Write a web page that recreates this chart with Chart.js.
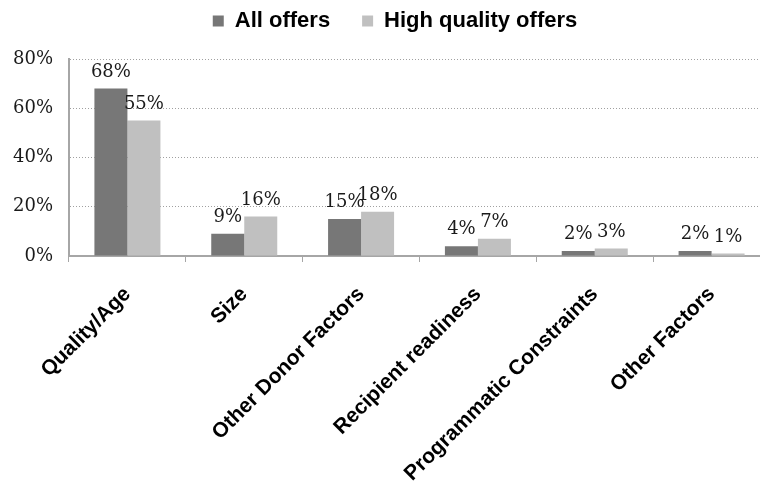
<!DOCTYPE html>
<html>
<head>
<meta charset="utf-8">
<title>Offer decline reasons</title>
<script src="https://cdn.jsdelivr.net/npm/chart.js@4.4.1/dist/chart.umd.min.js"></script>
<style>
    html, body {
        margin: 0;
        padding: 0;
        background: #ffffff;
        overflow: hidden;
    }
    #wrap {
        width: 770px;
        height: 483px;
    }
</style>
</head>
<body>
<div id="wrap">
    <canvas id="offersChart" width="770" height="483"></canvas>
</div>
<script>
// categories and values (percent)
const categories = [
    "Quality/Age",
    "Size",
    "Other Donor Factors",
    "Recipient readiness",
    "Programmatic Constraints",
    "Other Factors"
];
const allOffers = [68, 9, 15, 4, 2, 2];
const highQualityOffers = [55, 16, 18, 7, 3, 1];
const yTicks = [0, 20, 40, 60, 80];

const sansFont = "'Liberation Sans', Arial, sans-serif";
const serifFont = "'DejaVu Serif', Cambria, serif";

// percent labels above every bar
const barLabels = {
    id: "barLabels",
    afterDatasetsDraw(chart) {
        const ctx = chart.ctx;
        ctx.save();
        ctx.font = "18px " + serifFont;
        ctx.fillStyle = "#1a1a1a";
        ctx.textAlign = "center";
        ctx.textBaseline = "alphabetic";
        chart.data.datasets.forEach((ds, i) => {
            chart.getDatasetMeta(i).data.forEach((bar, j) => {
                ctx.fillText(ds.data[j] + "%", bar.x, bar.y - 12);
            });
        });
        ctx.restore();
    }
};

// taller legend so the plot starts lower, and nudge it a bit to the right
const legendFix = {
    id: "legendFix",
    beforeInit(chart) {
        if (!chart.legend || chart.legend._patched) return;
        const fit = chart.legend.fit;
        chart.legend.fit = function () {
            fit.call(this);
            this.height = 81;
        };
        chart.legend._patched = true;
    },
    afterLayout(chart) {
        if (chart.legend) chart.legend.left += 20;
    }
};

let offersChart = new Chart(document.getElementById("offersChart"), {
    type: "bar",
    data: {
        labels: categories,
        datasets: [{
            label: "All offers",
            data: allOffers,
            backgroundColor: "#777777",
            categoryPercentage: 0.565,
            barPercentage: 1
        }, {
            label: "High quality offers",
            data: highQualityOffers,
            backgroundColor: "#c0c0c0",
            categoryPercentage: 0.565,
            barPercentage: 1
        }]
    },
    options: {
        responsive: false,
        animation: false,
        layout: {
            padding: { top: -22, left: 0, right: 0, bottom: 0 }
        },
        plugins: {
            legend: {
                position: "top",
                labels: {
                    boxWidth: 11,
                    boxHeight: 11,
                    padding: 32,
                    color: "#000000",
                    font: { family: sansFont, size: 22, weight: "bold" }
                }
            },
            tooltip: { enabled: false }
        },
        scales: {
            x: {
                afterFit(scale) {
                    scale.height = 227;
                },
                border: { color: "#a6a6a6", width: 2 },
                grid: {
                    offset: true,
                    drawOnChartArea: false,
                    drawTicks: true,
                    tickLength: 6,
                    color: "#a6a6a6"
                },
                ticks: {
                    autoSkip: false,
                    minRotation: 45,
                    maxRotation: 45,
                    padding: 20,
                    color: "#000000",
                    font: { family: sansFont, size: 21, weight: "bold" }
                }
            },
            y: {
                min: 0,
                max: 80,
                afterFit(scale) {
                    scale.width = 69;
                },
                afterBuildTicks(scale) {
                    scale.ticks = yTicks.map(v => ({ value: v }));
                },
                grid: {
                    drawTicks: false,
                    color: "#a0a0a0",
                    lineWidth: 1
                },
                // in v4 border.dash sets the dash of the grid lines
                border: { color: "#a6a6a6", width: 2, dash: [1, 2] },
                ticks: {
                    padding: 16,
                    color: "#1a1a1a",
                    font: { family: serifFont, size: 18 },
                    callback: v => v + "%"
                }
            }
        }
    },
    plugins: [barLabels, legendFix]
});
</script>
</body>
</html>
